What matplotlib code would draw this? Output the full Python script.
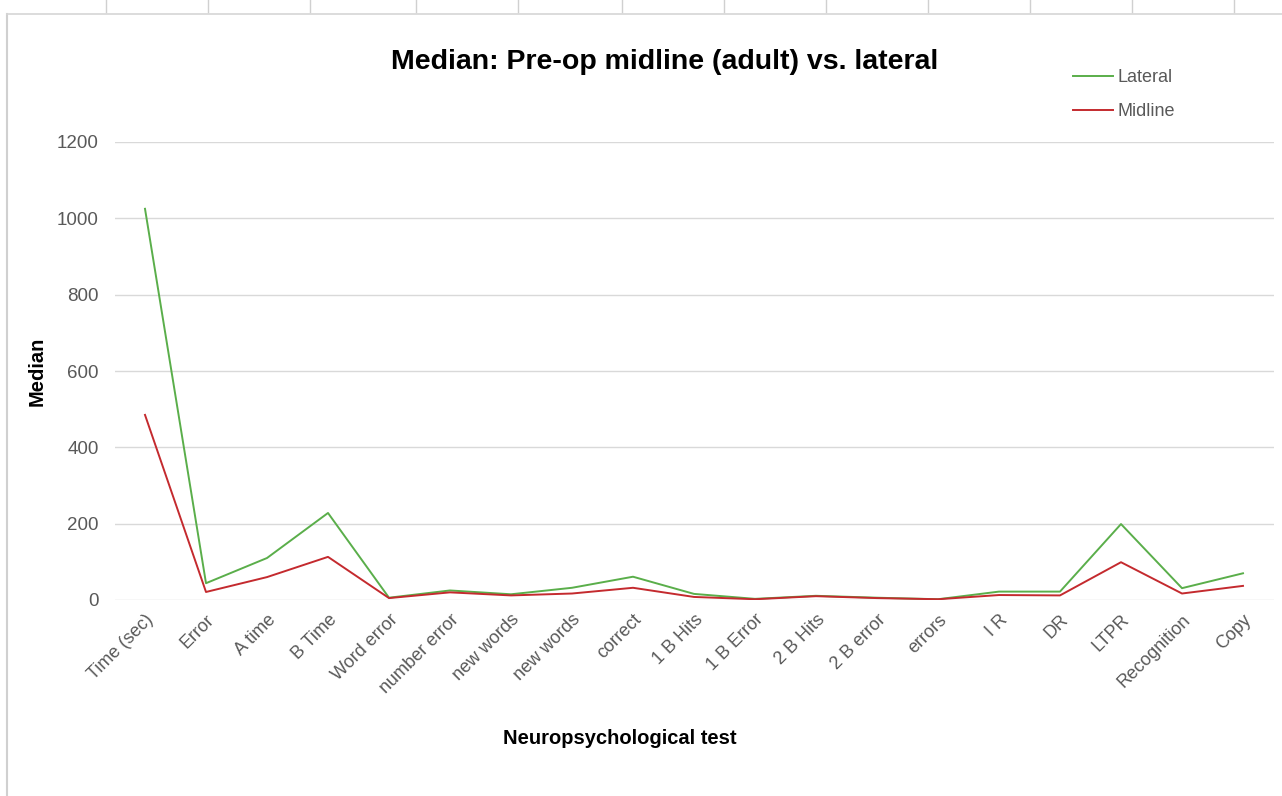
import matplotlib
matplotlib.use("Agg")
import matplotlib.pyplot as plt
from matplotlib.lines import Line2D

plt.rcParams['font.family'] = ['Liberation Sans', 'DejaVu Sans']

# Neuropsychological test items on the category axis
tests = ["Time (sec)", "Error", "A time", "B Time", "Word error", "number error",
         "new words", "new words", "correct", "1 B Hits", "1 B Error", "2 B Hits",
         "2 B error", "errors", "I R", "DR", "LTPR", "Recognition", "Copy"]

# Median scores per group
lateral = [1025, 44, 110, 228, 6, 25, 15, 32, 61, 16, 3, 11, 6, 2, 22, 22, 199, 31, 70]
midline = [485, 21, 60, 113, 5, 20, 12, 17, 32, 8, 2, 10, 5, 2, 13, 12, 99, 17, 37]

y_ticks = [0, 200, 400, 600, 800, 1000, 1200]

green = "#5aae4a"
red = "#c42a2e"
tick_grey = "#595959"

fig = plt.figure(figsize=(12.82, 7.96), dpi=100)
ax = fig.add_axes([114.5 / 1282, 1 - 600 / 796, (1273.5 - 114.5) / 1282, (600 - 142) / 796])

x = list(range(len(tests)))
ax.plot(x, lateral, color=green, lw=1.4, label="Lateral", zorder=3)
ax.plot(x, midline, color=red, lw=1.4, label="Midline", zorder=3)

ax.set_xlim(-0.5, len(tests) - 0.5)
ax.set_ylim(0, 1200)
ax.set_yticks(y_ticks)
ax.set_xticks(x)
ax.set_xticklabels(tests, rotation=45, ha="right", rotation_mode="anchor",
                   fontsize=13, color=tick_grey)
ax.tick_params(axis="y", labelsize=13.5, labelcolor=tick_grey, length=0, pad=11.5)
ax.tick_params(axis="x", length=0, pad=8)
ax.yaxis.grid(True, color="#d9d9d9", lw=1)
ax.set_axisbelow(True)
for s in ax.spines.values():
    s.set_visible(False)

ax.set_ylabel("Median", fontsize=14.5, fontweight="bold", labelpad=7)
fig.text(620 / 1282, 1 - 738 / 796, "Neuropsychological test", fontsize=14.5,
         fontweight="bold", ha="center", va="center")
fig.text(665 / 1282, 1 - 62 / 796, "Median: Pre-op midline (adult) vs. lateral",
         fontsize=20.5, fontweight="bold", ha="center", va="center")

leg = fig.legend(handles=[Line2D([], [], color=green, lw=1.4),
                          Line2D([], [], color=red, lw=1.4)],
                 labels=["Lateral", "Midline"], loc="upper left",
                 bbox_to_anchor=(1057 / 1282, 1 - 53 / 796), frameon=False,
                 fontsize=13, labelcolor=tick_grey, handlelength=2.2,
                 handletextpad=0.25, labelspacing=0.95)

# Sheet cell borders surrounding the embedded chart
fig.add_artist(Line2D([7 / 1282, 7 / 1282], [0, 1 - 14 / 796], color="#d0d0d0",
                      lw=1.5, transform=fig.transFigure))
fig.add_artist(Line2D([7 / 1282, 1], [1 - 14 / 796, 1 - 14 / 796], color="#d6d6d6",
                      lw=1.2, transform=fig.transFigure))
for px in [106, 208, 310, 416, 518, 622, 724, 826, 928, 1030, 1132, 1234]:
    fig.add_artist(Line2D([px / 1282, px / 1282], [1 - 12 / 796, 1], color="#d0d0d0",
                          lw=1.0, transform=fig.transFigure))

fig.savefig("out.png", dpi=100, facecolor="white")
